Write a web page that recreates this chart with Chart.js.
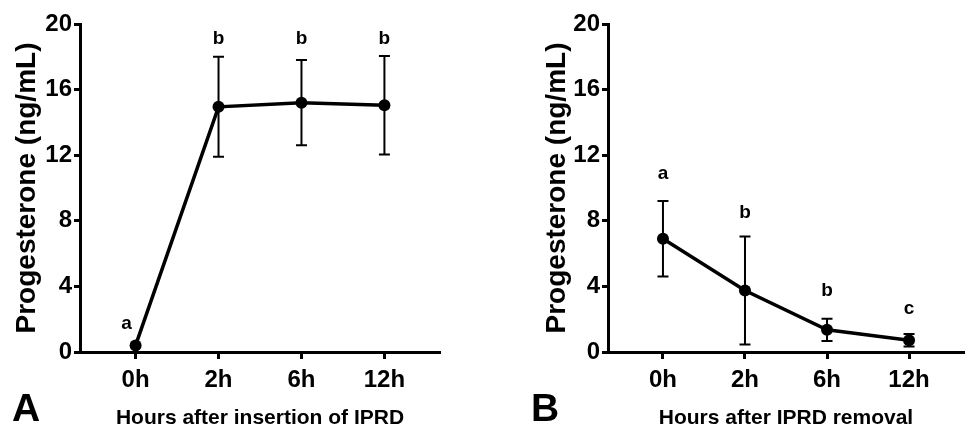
<!DOCTYPE html>
<html>
<head>
<meta charset="utf-8">
<script src="https://cdn.jsdelivr.net/npm/chart.js@4.4.1/dist/chart.umd.min.js"></script>
<style>
  html, body { margin: 0; padding: 0; background: #fff; }
  body { width: 970px; height: 431px; position: relative; overflow: hidden; font-family: "Liberation Sans", Arial, sans-serif; }
  .panel { position: absolute; top: 0; height: 431px; }
  #pA { left: 0; width: 485px; }
  #pB { left: 520px; width: 450px; }
  .letter { position: absolute; font-weight: bold; font-size: 39px; line-height: 1; color: #000; }
</style>
</head>
<body>
<div class="panel" id="pA"><canvas id="cA"></canvas></div>
<div class="panel" id="pB"><canvas id="cB"></canvas></div>
<div class="letter" style="left:12px; top:388px;">A</div>
<div class="letter" style="left:531px; top:388px;">B</div>
<script>
// ---- data ----
const timeLabels = ["0h", "2h", "6h", "12h"];
const insertionMean = [0.4, 14.95, 15.2, 15.05];
const insertionErr  = [0.1, 3.05, 2.6, 3.0];
const insertionSig  = ["a", "b", "b", "b"];
const insertionSigX = [-0.11, 1, 2, 3];
const insertionSigY = [1.7, 19.1, 19.1, 19.1];

const removalMean = [6.9, 3.75, 1.35, 0.72];
const removalErr  = [2.3, 3.3, 0.68, 0.38];
const removalSig  = ["a", "b", "b", "c"];
const removalSigX = [0, 1, 2, 3];
const removalSigY = [10.87, 8.5, 3.76, 2.64];

const yTicks = [0, 4, 8, 12, 16, 20];
const FONT = "'Liberation Sans', Arial, sans-serif";

const errorBars = {
  id: 'errorBars',
  beforeDatasetsDraw(chart, args, opts) {
    const {ctx, scales: {x, y}} = chart;
    ctx.save();
    ctx.strokeStyle = '#000';
    ctx.lineWidth = 2;
    opts.mean.forEach((m, i) => {
      const px = x.getPixelForValue(i);
      const top = y.getPixelForValue(m + opts.err[i]);
      const bot = y.getPixelForValue(m - opts.err[i]);
      const hw = 5.5;
      ctx.beginPath();
      ctx.moveTo(px, top); ctx.lineTo(px, bot);
      ctx.moveTo(px - hw, top); ctx.lineTo(px + hw, top);
      ctx.moveTo(px - hw, bot); ctx.lineTo(px + hw, bot);
      ctx.stroke();
    });
    ctx.restore();
  },
  afterDatasetsDraw(chart, args, opts) {
    const {ctx, scales: {x, y}} = chart;
    ctx.save();
    ctx.fillStyle = '#000';
    ctx.font = "bold 19px " + FONT;
    ctx.textAlign = 'center';
    ctx.textBaseline = 'middle';
    opts.sig.forEach((s, i) => {
      ctx.fillText(s, x.getPixelForValue(opts.sigX[i]), y.getPixelForValue(opts.sigY[i]));
    });
    ctx.restore();
  }
};

function makeChart(id, mean, err, sig, sigX, sigY, xTitle, yAxisWidth, padRight, yTitlePad) {
  return new Chart(document.getElementById(id), {
    type: 'line',
    data: {
      datasets: [{
        data: mean.map((v, i) => ({x: i, y: v})),
        borderColor: '#000',
        backgroundColor: '#000',
        borderWidth: 3.5,
        pointRadius: 6,
        pointBackgroundColor: '#000',
        pointBorderColor: '#000',
        pointBorderWidth: 0,
        tension: 0,
        clip: false
      }]
    },
    options: {
      responsive: true,
      maintainAspectRatio: false,
      animation: false,
      events: [],
      layout: { padding: { top: 24, right: padRight, left: 0, bottom: 0 } },
      plugins: {
        legend: { display: false },
        tooltip: { enabled: false },
        errorBars: { mean, err, sig, sigX, sigY }
      },
      scales: {
        x: {
          type: 'linear',
          min: -0.67, max: 3.67,
          afterBuildTicks(scale) { scale.ticks = timeLabels.map((_, i) => ({value: i})); },
          afterFit(scale) { scale.height = 79; },
          ticks: {
            color: '#000',
            font: { family: FONT, size: 24, weight: 'bold' },
            padding: 7,
            maxRotation: 0,
            autoSkip: false,
            callback: (v) => timeLabels[v]
          },
          grid: { drawOnChartArea: false, drawTicks: true, tickLength: 7, tickWidth: 3, tickColor: '#000' },
          border: { display: true, width: 3, color: '#000' },
          title: {
            display: true, text: xTitle, color: '#000',
            font: { family: FONT, size: 21, weight: 'bold' },
            padding: { top: 0, bottom: 0 }
          }
        },
        y: {
          min: 0, max: 20,
          afterBuildTicks(scale) { scale.ticks = yTicks.map(v => ({value: v})); },
          afterFit(scale) { scale.width = yAxisWidth; },
          ticks: {
            color: '#000',
            font: { family: FONT, size: 24, weight: 'bold' },
            padding: 2
          },
          grid: { drawOnChartArea: false, drawTicks: true, tickLength: 6, tickWidth: 3, tickColor: '#000' },
          border: { display: true, width: 3, color: '#000' },
          title: {
            display: true, text: 'Progesterone (ng/mL)', color: '#000',
            font: { family: FONT, size: 28, weight: 'bold' },
            padding: { top: yTitlePad, bottom: 0 }
          }
        }
      }
    },
    plugins: [errorBars]
  });
}

makeChart('cA', insertionMean, insertionErr, insertionSig, insertionSigX, insertionSigY,
  'Hours after insertion of IPRD', 80, 45, 10);
makeChart('cB', removalMean, removalErr, removalSig, removalSigX, removalSigY,
  'Hours after IPRD removal', 88, 3, 20);
</script>
</body>
</html>
